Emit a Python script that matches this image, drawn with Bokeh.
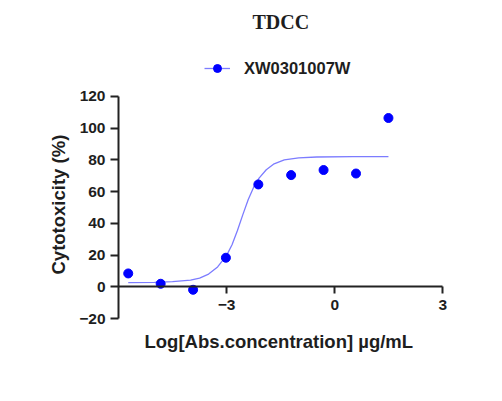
from bokeh.plotting import figure
from bokeh.models import Range1d, LinearAxis, FixedTicker, Legend, LegendItem, Title
from bokeh.embed import file_html
from bokeh.resources import INLINE

title_text = "TDCC"
series_name = "XW0301007W"
x_label = "Log[Abs.concentration] \u00b5g/mL"
y_label = "Cytotoxicity (%)"

# measured points (log10 concentration, % cytotoxicity)
log_conc = [-5.73, -4.83, -3.93, -3.02, -2.12, -1.21, -0.31, 0.59, 1.49]
cytotox = [8.4, 1.9, -1.9, 18.3, 64.5, 70.4, 73.6, 71.4, 106.4]

# fitted curve
fit_x = [-5.73, -5.0, -4.5, -4.0, -3.75, -3.5, -3.25, -3.0, -2.85, -2.7, -2.55,
         -2.4, -2.25, -2.1, -1.9, -1.7, -1.4, -1.0, -0.5, 0.5, 1.49]
fit_y = [2.6, 2.8, 3.2, 4.2, 5.5, 8.0, 12.5, 19.8, 26.5, 35.5, 45.5,
         55.0, 62.8, 68.5, 73.8, 77.3, 80.0, 81.3, 81.8, 82.0, 82.0]

x_ticks = [-3, 0, 3]
y_ticks = [-20, 0, 20, 40, 60, 80, 100, 120]

TXT = "#1e1e1e"
AX = "#222222"

p = figure(width=486, height=385, output_backend="svg", toolbar_location=None,
           x_range=Range1d(-6, 3.6), y_range=Range1d(-20, 154),
           x_axis_type=None,
           min_border_left=118, min_border_right=22,
           min_border_top=42, min_border_bottom=67)
p.outline_line_color = None
p.grid.grid_line_color = None
p.background_fill_color = "white"
p.border_fill_color = "white"

p.title.text = title_text
p.title.align = "left"
p.title.offset = 134
p.title.vertical_align = "top"
p.title.standoff = 16
p.title.text_font = "Liberation Serif"
p.title.text_font_size = "20px"
p.title.text_font_style = "bold"
p.title.text_color = TXT

# y axis
ya = p.yaxis[0]
ya.ticker = FixedTicker(ticks=y_ticks)
ya.bounds = (-20, 120)
ya.major_label_text_font = "Liberation Sans"
ya.major_label_text_font_size = "15.5px"
ya.major_label_text_font_style = "bold"
ya.major_label_text_color = TXT
ya.major_label_standoff = 5
ya.major_tick_out = 8
ya.major_tick_in = 0
ya.minor_tick_out = 0
ya.minor_tick_in = 0
ya.axis_line_width = 2
ya.axis_line_color = AX
ya.major_tick_line_width = 2
ya.major_tick_line_color = AX

y_title = Title(text=y_label, align="left", offset=44, vertical_align="bottom",
                standoff=16, text_font="Liberation Sans", text_font_size="18.5px",
                text_font_style="bold", text_color=TXT)
p.add_layout(y_title, "left")

# x axis crossing at y = 0
xa = LinearAxis(fixed_location=0, ticker=FixedTicker(ticks=x_ticks), bounds=(-6, 3))
xa.major_label_text_font = "Liberation Sans"
xa.major_label_text_font_size = "15.5px"
xa.major_label_text_font_style = "bold"
xa.major_label_text_color = TXT
xa.major_label_standoff = 6
xa.major_tick_out = 7
xa.major_tick_in = 0
xa.minor_tick_out = 0
xa.minor_tick_in = 0
xa.axis_line_width = 2
xa.axis_line_color = AX
xa.major_tick_line_width = 2
xa.major_tick_line_color = AX
p.add_layout(xa, "below")

x_title = Title(text=x_label, align="left", offset=26, vertical_align="top",
                standoff=24, text_font="Liberation Sans", text_font_size="18.5px",
                text_font_style="bold", text_color=TXT)
p.add_layout(x_title, "below")

curve = p.line(fit_x, fit_y, line_color="#7c7cff", line_width=1.3)
pts = p.scatter(log_conc, cytotox, size=9, marker="circle",
                fill_color="#0000ff", line_color="#0000ff")

legend = Legend(items=[LegendItem(label=series_name, renderers=[curve, pts])],
                location=(86, 240), orientation="horizontal",
                glyph_width=26, glyph_height=20, label_standoff=14,
                padding=4, margin=0, border_line_color=None,
                background_fill_alpha=0,
                label_text_font="Liberation Sans", label_text_font_size="16.5px",
                label_text_font_style="bold", label_text_color=TXT)
p.add_layout(legend)

open("out.html", "w").write(file_html(p, INLINE))
